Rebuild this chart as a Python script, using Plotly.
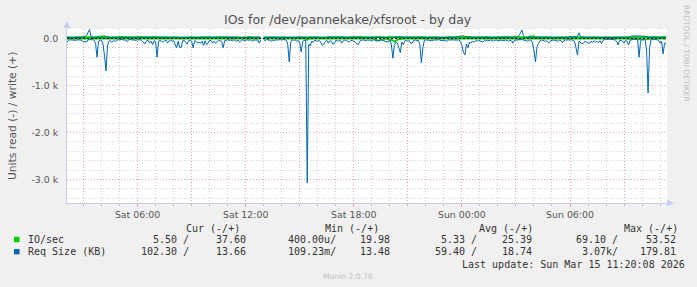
import pandas as pd
import plotly.graph_objects as go

# ---------------- data ----------------
start_time = "2026-03-14 02:05"
n_points = 400  # 5-minute samples

# Req Size (KB) read (plotted negative)
req_read = [
    80, 40, 30, 35, 25, 30, 40, 30, 25, 35, 45, 80,
    60, 80, 30, 20, 25, 30, 40, 100, 400, 60, 35, 40,
    120, 380, 690, 150, 60, 50, 80, 40, 70, 35, 30, 40,
    30, 25, 35, 40, 70, 30, 25, 30, 35, 30, 40, 30,
    35, 30, 60, 90, 115, 50, 40, 100, 60, 130, 50, 70,
    400, 60, 40, 60, 80, 50, 40, 100, 50, 40, 60, 50,
    115, 200, 60, 190, 200, 50, 40, 80, 120, 50, 40, 60,
    200, 50, 60, 100, 80, 100, 60, 150, 50, 130, 100, 40,
    50, 100, 60, 100, 70, 40, 50, 60, 200, 50, 40, 30,
    40, 35, 50, 30, 40, 60, 35, 80, 40, 30, 50, 35,
    30, 40, 30, 60, 35, 30, 40, 30, 100, 35, None, 20,
    50, 25, 30, 40, 60, 35, 50, 30, 40, 25, 30, 35,
    30, 25, 40, 120, 500, 80, 30, 40, 35, 60, 40, 100,
    290, 60, 40, 30, 3070, 120, 160, 60, 80, 40, 50, 60,
    40, 80, 150, 130, 60, 40, 100, 50, 60, 120, 110, 40,
    50, 60, 40, 100, 50, 35, 40, 60, 80, 50, 40, 60,
    80, 120, 130, 60, 40, 30, 40, 50, 35, 30, 40, 50,
    30, 35, 60, 40, 50, 30, 40, 35, 50, 60, 80, 40,
    120, 420, 150, 80, 100, 200, 300, 80, 130, 50, 40, 60,
    50, 100, 100, 40, 35, 50, 40, 120, 520, 200, 40, 30,
    35, 40, 30, 50, 35, 30, 40, 35, 30, 45, 35, 40,
    50, 60, 35, 30, 40, 30, 35, 40, 30, 35, 60, 150,
    300, 350, 120, 200, 80, 100, 60, 80, 50, 60, 40, 50,
    60, 80, 40, 35, 50, 40, 35, 45, 60, 40, 35, 50,
    40, 35, 45, 50, 40, 35, 60, 40, 50, 100, 40, 35,
    30, 40, 30, 25, 35, 40, 50, 60, 40, 35, 100, 250,
    500, 180, 110, 50, 40, 35, 60, 50, 70, 100, 50, 40,
    35, 40, 50, 60, 40, 50, 90, 40, 35, 30, 40, 35,
    30, 40, 60, 200, 355, 60, 80, 115, 100, 60, 80, 100,
    100, 60, 90, 50, 80, 60, 90, 50, 110, 40, 20, 15,
    20, 15, 20, 25, 20, 30, 60, 140, 50, 40, 60, 100,
    40, 60, 140, 40, 30, 20, 10, 10, 15, 400, 60, 10,
    15, 20, 250, 1160, 200, 30, 25, 20, 25, 30, 40, 100,
    60, 330, 100, 102.30,
]

# Req Size (KB) write (plotted positive)
req_write = [
    15, 12, 18, 20, 14, 16, 22, 18, 15, 20, 25, 30,
    40, 60, 120, 190, 40, 20, 15, 18, 12, 10, 15, 20,
    12, 15, 10, 18, 20, 22, 15, 18, 20, 16, 14, 18,
    20, 22, 18, 15, 20, 24, 18, 16, 20, 22, 18, 15,
    18, 20, 22, 16, 14, 18, 20, 15, 18, 20, 22, 18,
    12, 16, 20, 22, 18, 15, 20, 18, 16, 20, 22, 18,
    15, 18, 20, 16, 14, 18, 20, 22, 18, 16, 20, 18,
    16, 18, 20, 15, 18, 22, 20, 18, 16, 18, 20, 22,
    18, 16, 20, 22, 18, 15, 20, 18, 22, 20, 18, 16,
    20, 22, 18, 16, 20, 18, 15, 18, 20, 22, 18, 20,
    18, 20, 22, 18, 16, 20, 18, 20, 22, 18, None, 20,
    22, 18, 20, 16, 18, 20, 22, 18, 20, 16, 18, 20,
    20, 18, 16, 20, 12, 18, 20, 22, 18, 20, 16, 18,
    15, 18, 20, 22, 10, 18, 16, 20, 18, 22, 20, 18,
    20, 18, 22, 20, 16, 18, 20, 22, 18, 20, 16, 18,
    20, 22, 18, 16, 20, 18, 22, 20, 18, 16, 20, 22,
    18, 20, 22, 18, 20, 16, 18, 20, 22, 18, 20, 18,
    16, 20, 18, 22, 20, 18, 16, 20, 18, 22, 20, 18,
    16, 12, 18, 20, 18, 16, 14, 18, 20, 22, 18, 20,
    20, 18, 22, 20, 18, 16, 18, 12, 20, 22, 18, 20,
    22, 18, 20, 16, 18, 20, 22, 18, 20, 16, 18, 20,
    18, 20, 22, 18, 20, 16, 18, 20, 22, 40, 50, 55,
    50, 45, 30, 20, 18, 22, 20, 18, 16, 20, 18, 22,
    20, 18, 22, 20, 18, 16, 20, 22, 18, 20, 18, 16,
    18, 20, 22, 18, 20, 16, 18, 20, 22, 18, 20, 30,
    40, 60, 110, 179.81, 60, 25, 20, 18, 16, 20, 18, 20,
    15, 18, 20, 22, 18, 20, 16, 18, 20, 22, 18, 20,
    18, 20, 22, 18, 20, 16, 18, 20, 22, 18, 20, 18,
    20, 22, 25, 30, 40, 120, 40, 25, 20, 18, 16, 20,
    18, 20, 22, 18, 20, 16, 18, 20, 22, 18, 20, 18,
    20, 18, 22, 20, 18, 16, 20, 18, 22, 20, 18, 20,
    22, 20, 18, 30, 50, 55, 60, 58, 55, 52, 50, 55,
    58, 52, 40, 20, 18, 20, 22, 18, 20, 16, 18, 20,
    18, 20, 22, 13.66,
]

# IO/sec read (plotted negative)
io_read = [
    5, 4, 6, 5, 3, 4, 6, 5, 4, 5, 6, 8,
    6, 5, 4, 3, 5, 6, 4, 5, 8, 6, 5, 4,
    5, 6, 8, 6, 5, 4, 6, 5, 4, 5, 6, 5,
    4, 5, 6, 5, 4, 6, 5, 4, 5, 6, 4, 5,
    6, 5, 4, 5, 6, 5, 4, 6, 5, 4, 5, 6,
    8, 6, 5, 4, 5, 6, 5, 4, 6, 5, 4, 5,
    6, 5, 4, 6, 5, 4, 5, 6, 4, 5, 6, 5,
    5, 4, 6, 5, 4, 5, 6, 5, 4, 6, 5, 4,
    5, 6, 4, 5, 6, 5, 4, 5, 6, 5, 4, 5,
    4, 5, 6, 5, 4, 5, 6, 4, 5, 6, 5, 4,
    5, 4, 5, 6, 5, 4, 5, 6, 5, 4, None, 5,
    6, 5, 4, 5, 6, 5, 4, 5, 6, 5, 4, 5,
    5, 4, 5, 6, 10, 6, 5, 4, 5, 6, 5, 6,
    8, 5, 4, 5, 30, 8, 6, 5, 4, 5, 6, 5,
    5, 6, 5, 4, 5, 6, 5, 4, 5, 6, 5, 4,
    5, 4, 5, 6, 5, 4, 6, 5, 4, 5, 6, 5,
    6, 5, 4, 5, 6, 5, 4, 5, 6, 5, 4, 5,
    5, 6, 30, 45, 40, 20, 10, 8, 6, 12, 25, 30,
    20, 35, 69.10, 40, 30, 15, 10, 6, 5, 4, 5, 6,
    5, 4, 6, 5, 4, 5, 6, 5, 4, 5, 6, 5,
    4, 5, 6, 5, 4, 5, 6, 5, 4, 5, 6, 5,
    5, 4, 5, 6, 5, 4, 5, 6, 5, 4, 5, 6,
    8, 6, 5, 4, 5, 6, 5, 4, 5, 6, 5, 4,
    5, 6, 5, 4, 5, 6, 5, 4, 5, 6, 5, 4,
    5, 4, 6, 5, 4, 5, 6, 5, 4, 5, 6, 5,
    4, 5, 6, 5, 4, 5, 6, 5, 4, 5, 6, 8,
    10, 6, 5, 4, 5, 6, 5, 4, 5, 6, 5, 4,
    5, 6, 5, 4, 5, 6, 5, 4, 5, 6, 5, 4,
    5, 4, 6, 5, 8, 6, 5, 4, 5, 6, 5, 4,
    5, 6, 5, 4, 5, 6, 5, 4, 5, 6, 5, 4,
    5, 4, 5, 6, 5, 4, 5, 6, 5, 4, 5, 6,
    5, 4, 5, 6, 5, 4, 5, 6, 5, 10, 20, 25,
    20, 15, 10, 8, 6, 5, 4, 5, 6, 5, 4, 5,
    6, 5, 5, 5.50,
]

# IO/sec write (plotted positive)
io_write = [
    25, 22, 28, 30, 26, 24, 28, 25, 22, 26, 30, 28,
    26, 24, 28, 30, 25, 22, 26, 28, 30, 35, 45, 50,
    52, 48, 40, 30, 26, 24, 28, 25, 22, 26, 28, 30,
    28, 26, 24, 28, 30, 25, 22, 26, 28, 24, 26, 28,
    30, 28, 26, 24, 28, 25, 22, 26, 28, 30, 26, 24,
    22, 26, 28, 30, 26, 24, 28, 25, 22, 26, 28, 24,
    26, 28, 24, 22, 26, 28, 30, 26, 24, 28, 25, 22,
    24, 26, 28, 25, 22, 26, 28, 30, 26, 24, 28, 25,
    22, 26, 28, 24, 26, 28, 30, 25, 22, 26, 28, 24,
    26, 28, 30, 26, 24, 28, 25, 22, 26, 28, 24, 26,
    28, 30, 26, 24, 28, 25, 22, 26, 28, 24, None, 22,
    24, 26, 28, 30, 26, 24, 28, 25, 22, 26, 28, 24,
    26, 28, 24, 22, 26, 28, 30, 26, 24, 28, 25, 22,
    24, 26, 28, 25, 22, 26, 28, 30, 26, 24, 28, 25,
    22, 26, 28, 24, 26, 28, 30, 25, 22, 26, 28, 24,
    26, 28, 30, 26, 24, 28, 25, 22, 26, 28, 24, 26,
    28, 24, 26, 28, 30, 25, 22, 26, 28, 24, 26, 28,
    24, 26, 28, 30, 26, 24, 28, 25, 22, 26, 28, 24,
    26, 28, 24, 22, 26, 28, 30, 26, 24, 28, 25, 22,
    24, 26, 28, 25, 22, 26, 28, 30, 26, 24, 28, 25,
    22, 26, 28, 24, 26, 28, 30, 25, 22, 26, 28, 24,
    26, 28, 30, 26, 24, 28, 25, 22, 26, 28, 24, 26,
    28, 24, 26, 28, 30, 25, 22, 26, 28, 24, 26, 28,
    24, 26, 28, 30, 26, 24, 28, 25, 22, 26, 28, 24,
    26, 28, 24, 22, 26, 28, 30, 26, 24, 28, 25, 22,
    24, 26, 28, 25, 22, 26, 28, 30, 35, 45, 53.52, 45,
    30, 26, 28, 24, 26, 28, 30, 25, 22, 26, 28, 24,
    26, 28, 30, 26, 24, 28, 25, 22, 26, 28, 24, 26,
    28, 24, 26, 28, 30, 25, 22, 26, 28, 24, 26, 28,
    24, 26, 28, 30, 26, 24, 28, 25, 22, 26, 28, 24,
    26, 28, 24, 22, 26, 28, 30, 26, 24, 28, 25, 22,
    24, 26, 28, 25, 22, 26, 28, 30, 26, 24, 28, 25,
    22, 26, 28, 24, 26, 28, 30, 25, 22, 26, 28, 24,
    26, 30, 34, 37.60,
]

x_range = ["2026-03-14 02:05", "2026-03-15 11:23"]
x_tick_vals = ["2026-03-14 03:00", "2026-03-14 06:00", "2026-03-14 09:00",
               "2026-03-14 12:00", "2026-03-14 15:00", "2026-03-14 18:00",
               "2026-03-14 21:00", "2026-03-15 00:00", "2026-03-15 03:00",
               "2026-03-15 06:00", "2026-03-15 09:00"]
x_tick_text = ["", "Sat 06:00", "", "Sat 12:00", "", "Sat 18:00",
               "", "Sun 00:00", "", "Sun 06:00", ""]
y_tick_vals = [-3000, -2000, -1000, 0]
y_tick_text = ["-3.0 k", "-2.0 k", "-1.0 k", "0.0"]
y_range = [-3500, 200]

series_names = ["IO/sec", "Req Size (KB)"]
cur_read = ["5.50 ", "102.30 "]
cur_write = ["37.60", "13.66"]
min_read = ["400.00u", "109.23m"]
min_write = ["19.98", "13.48"]
avg_read = ["5.33 ", "59.40 "]
avg_write = ["25.39", "18.74"]
max_read = ["69.10 ", "3.07k"]
max_write = ["53.52", "179.81"]
last_update = "Last update: Sun Mar 15 11:20:08 2026"

GREEN = "#00cc00"
BLUE = "#0066b3"

# ---------------- layout helpers (pixel -> paper) ----------------
W, H = 697, 287
ML, MR, MT, MB = 67, 30, 29, 84
PW, PH = W - ML - MR, H - MT - MB


def px(x):
    return (x - ML) / PW


def py(y):
    return (H - MB - y) / PH


times = pd.date_range(start_time, periods=n_points, freq="5min")


def neg(v):
    return [None if a is None else -a for a in v]


fig = go.Figure()
fig.add_trace(go.Scatter(x=times, y=neg(io_read), mode="lines",
                         line=dict(color=GREEN, width=1.8), hoverinfo="skip"))
fig.add_trace(go.Scatter(x=times, y=io_write, mode="lines",
                         line=dict(color=GREEN, width=1.8), hoverinfo="skip"))
fig.add_trace(go.Scatter(x=times, y=neg(req_read), mode="lines",
                         line=dict(color=BLUE, width=1), hoverinfo="skip"))
fig.add_trace(go.Scatter(x=times, y=req_write, mode="lines",
                         line=dict(color=BLUE, width=1), hoverinfo="skip"))

MAJOR = "#e4a6a6"
MINOR = "#d2d2d2"
AXIS = "#c8ccf2"
TXT = "#555555"

minor_hours = pd.date_range("2026-03-14 02:00", "2026-03-15 12:00", freq="1h")

fig.update_layout(
    width=W, height=H,
    margin=dict(l=ML, r=MR, t=MT, b=MB, pad=0),
    paper_bgcolor="#f0f0f0", plot_bgcolor="#ffffff",
    showlegend=False,
    font=dict(family="DejaVu Sans", size=9.4, color=TXT),
    xaxis=dict(
        type="date", range=x_range, tickmode="array",
        tickvals=x_tick_vals, ticktext=x_tick_text,
        showgrid=True, gridcolor=MAJOR, griddash="1px,2px", gridwidth=1,
        ticks="outside", ticklen=3, tickcolor=MAJOR,
        showline=True, linecolor=AXIS, linewidth=1,
        zeroline=False, tickfont=dict(size=9.4, color=TXT),
        minor=dict(tickmode="array", tickvals=list(minor_hours),
                   showgrid=True, gridcolor=MINOR, griddash="1px,2px",
                   ticks="outside", ticklen=2, tickcolor="#bbbbbb"),
        fixedrange=True,
    ),
    yaxis=dict(
        range=y_range, tickmode="array", tickvals=y_tick_vals,
        ticktext=y_tick_text, showgrid=True, gridcolor=MAJOR,
        griddash="1px,2px", gridwidth=1, ticks="", ticklabelstandoff=6,
        showline=True, linecolor=AXIS, linewidth=1, zeroline=False,
        tickfont=dict(size=9.4, color=TXT),
        minor=dict(dtick=200, tick0=0, showgrid=True, gridcolor=MINOR,
                   griddash="1px,2px"),
        fixedrange=True,
    ),
)

shapes = [
    # zero line
    dict(type="line", xref="paper", yref="y", x0=0, x1=1, y0=0, y1=0,
         line=dict(color="#000000", width=1, dash="2px,2px"), layer="above"),
    # axis arrows
    dict(type="path", xref="paper", yref="paper",
         path=f"M {px(67)},{py(21)} L {px(63.5)},{py(28)} L {px(70.5)},{py(28)} Z",
         fillcolor=AXIS, line=dict(width=0)),
    dict(type="path", xref="paper", yref="paper",
         path=f"M {px(674)},{py(203)} L {px(667)},{py(199.5)} L {px(667)},{py(206.5)} Z",
         fillcolor=AXIS, line=dict(width=0)),
    # legend swatches
    dict(type="rect", xref="paper", yref="paper", x0=px(14), x1=px(19.5),
         y0=py(242.2), y1=py(236.8), fillcolor=GREEN, line=dict(width=0)),
    dict(type="rect", xref="paper", yref="paper", x0=px(14), x1=px(19.5),
         y0=py(254.4), y1=py(249), fillcolor=BLUE, line=dict(width=0)),
]
fig.update_layout(shapes=shapes)

MONO = "DejaVu Sans Mono"
LEG = "#333333"
ann = []


def text(t, x, y, anchor="left", size=10, family=MONO, color=LEG, angle=0):
    ann.append(dict(text=t, x=px(x), y=py(y), xref="paper", yref="paper",
                    xanchor=anchor, yanchor="middle", showarrow=False,
                    textangle=angle,
                    font=dict(family=family, size=size, color=color)))


# title & axis title
text("IOs for /dev/pannekake/xfsroot - by day", 348, 19.3, "center", 12.5,
     "DejaVu Sans", "#505050")
text("Units read (-) / write (+)", 12, 116, "center", 10.7, "DejaVu Sans", TXT,
     -90)
text("RRDTOOL / TOBI OETIKER", 687, 53, "center", 7.5, "DejaVu Sans",
     "#bdbdbd", 90)

# legend table
hy = 228.3
text("Cur (-/+)", 183.6, hy)
text("Min (-/+)", 323.3, hy)
text("Avg (-/+)", 477.0, hy)
text("Max (-/+)", 622.0, hy)
for k, ry in enumerate([239.5, 251.7]):
    text(series_names[k], 26.0, ry)
    text(cur_read[k] + "/", 190.5, ry, "right")
    text(cur_write[k], 247.5, ry, "right")
    text(min_read[k] + "/", 337.7, ry, "right")
    text(min_write[k], 391.5, ry, "right")
    text(avg_read[k] + "/", 479.3, ry, "right")
    text(avg_write[k], 534.1, ry, "right")
    text(max_read[k] + "/", 620.3, ry, "right")
    text(max_write[k], 677.5, ry, "right")
text(last_update, 460.2, 264)
text("Munin 2.0.76", 348, 276.7, "center", 7.6, "DejaVu Sans", "#c0c0c0")

fig.update_layout(annotations=ann)

fig.write_html("out.html", config=dict(displayModeBar=False, staticPlot=True))
